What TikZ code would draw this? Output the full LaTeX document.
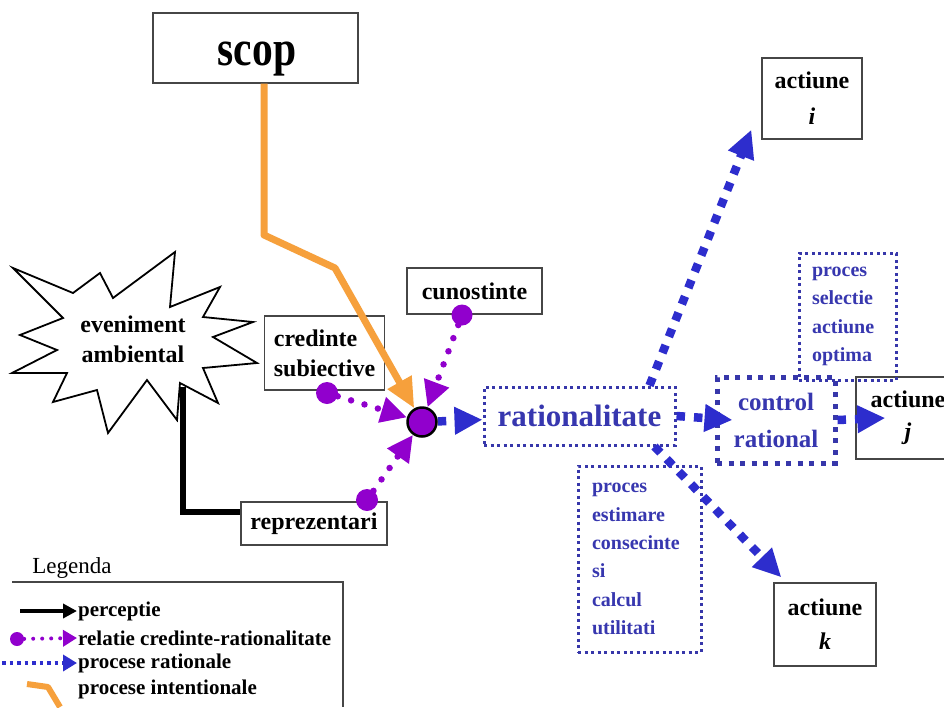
\documentclass[tikz,border=0pt]{standalone}
\usepackage{fontspec}
\setmainfont{Liberation Serif}
\newfontfamily\condserif[FakeStretch=0.83]{Liberation Serif Bold}
\usetikzlibrary{arrows.meta,calc}
\definecolor{arrblue}{RGB}{45,45,205}
\definecolor{boxblue}{RGB}{55,55,170}
\definecolor{txtblue}{RGB}{55,55,175}
\definecolor{purp}{RGB}{145,0,205}
\definecolor{orng}{RGB}{246,160,60}
\definecolor{boxgray}{RGB}{70,70,70}
\newcommand\fsL{\bfseries\fontsize{24}{30}\selectfont}
\newcommand\fsLeg{\bfseries\fontsize{21}{22}\selectfont}
\pgfdeclarelayer{fg}
\pgfsetlayers{main,fg}
\tikzset{
 bbox/.style={draw=boxgray, line width=1.3pt, fill=white, inner sep=0pt, align=center, font=\fsL},
 dbox/.style={draw=boxblue, line width=3pt, dash pattern=on 3pt off 3.5pt, inner sep=0pt, text=txtblue},
 barrow/.style={draw=arrblue, line width=8.5pt, dash pattern=on 8.5pt off 9pt, -{Triangle[length=28pt,width=26pt]}},
 parrow/.style={draw=purp, line width=6.5pt, line cap=round, dash pattern=on 0pt off 14pt, -{Triangle[length=26pt,width=25pt]}},
 pdot/.style={circle, fill=purp, inner sep=0pt, minimum size=22pt},
 oarrow/.style={draw=orng, line width=7pt, line join=round, -{Triangle[length=30pt,width=26pt]}},
 legtxt/.style={font=\fsLeg, anchor=west, inner sep=1pt},
}
\begin{document}
\begin{tikzpicture}[x=1pt,y=-1pt]
\useasboundingbox (0,0) rectangle (944,707);
\fill[white] (0,0) rectangle (944,707);

% foreground dots and centre
\begin{pgfonlayer}{fg}
\node[pdot] (d1) at (327,393) {};
\node[pdot] (d2) at (367,500) {};
\node[pdot, minimum size=21pt] (d3) at (462,315) {};
\node[circle, fill=purp, draw=black, line width=2.5pt, minimum size=29pt, inner sep=0pt] (cen) at (422,422) {};
\end{pgfonlayer}

% perception line
\coordinate (evb) at (183,387);
\node[bbox, minimum width=146pt, minimum height=43pt] (rep) at (314,523.5) {reprezentari};
\draw[line width=6pt] (evb) |- ([yshift=12pt]rep.west);
\node[bbox, minimum width=146pt, minimum height=43pt] at (rep) {reprezentari};

% star
\filldraw[fill=white, draw=black, line width=1.8pt, line join=miter]
 (13,268) -- (73,293) -- (100,273) -- (113,298) -- (175,252) -- (170,307) -- (220,287)
 -- (203,317) -- (253,322) -- (213,337) -- (257,363) -- (203,368) -- (218,403)
 -- (180,383) -- (177,420) -- (147,380) -- (108,433) -- (97,390) -- (53,402)
 -- (67,373) -- (12,373) -- (57,350) -- (20,335) -- (63,318) -- cycle;
\node[font=\fsL, align=center] (ev) at (133,339) {eveniment\\ambiental};

% boxes
\node[bbox, minimum width=205pt, minimum height=70pt] (scop) at (255.5,48) {};
\node[font=\condserif\fontsize{50}{50}\selectfont, anchor=base, inner sep=0pt] (scopt) at (257,65) {scop};
\node[bbox, minimum width=119pt, minimum height=74pt, align=left, inner xsep=9pt] (cred) at (324.5,353) {credinte\\subiective};
\node[bbox, minimum width=135pt, minimum height=46pt] (cun) at (474.5,291) {cunostinte};
\node[bbox, minimum width=100pt, minimum height=81pt] (acti) at (812,98.5) {actiune\\[6pt]\textit{i}};
\node[bbox, minimum width=104pt, minimum height=82pt] (actj) at (908,418) {actiune\\[2pt]\textit{j}};
\node[bbox, minimum width=102pt, minimum height=83pt] (actk) at (825,624.5) {actiune\\[4pt]\textit{k}};

\node[dbox, fill=white, minimum width=191pt, minimum height=58pt, font=\bfseries\fontsize{31}{31}\selectfont] (rat) at (579.5,416) {rationalitate};
\node[dbox, fill=white, line width=5pt, dash pattern=on 5pt off 6.5pt, minimum width=118pt, minimum height=86pt, align=center, font=\bfseries\fontsize{25}{37}\selectfont] (ctrl) at (776,420) {control\\rational};
\node[dbox, minimum width=97pt, minimum height=127pt, align=left, text width=71pt, font=\bfseries\fontsize{20}{28.5}\selectfont] (sel) at (847.5,316.5) {proces\\selectie\\actiune\\optima};
\node[dbox, minimum width=123pt, minimum height=186pt, align=left, text width=95pt, font=\bfseries\fontsize{20}{28.4}\selectfont] (est) at (639.5,559) {proces\\estimare\\consecinte\\si\\calcul\\utilitati};

% orange intentional arrow
\coordinate (o1) at (264,235);
\coordinate (o2) at (335,268);
\draw[oarrow] ([xshift=8.5pt]scop.south) -- (o1) -- (o2) -- (cen);

% purple arrows
\draw[parrow] (d1) -- (cen);
\draw[parrow] (d2) -- (cen);
\draw[parrow] (d3) -- (cen);

% blue arrows
\draw[barrow] (cen) -- (rat);
\draw[barrow] (rat.east) -- ([xshift=18pt]ctrl.west);
\draw[barrow] (ctrl.east) -- ([xshift=30pt]actj.west);
\draw[barrow] ([xshift=70pt]rat.north) -- ([xshift=-10pt,yshift=10pt]acti.south west);
\draw[barrow] ([xshift=75pt]rat.south) -- ([xshift=8pt,yshift=5pt]actk.north west);

% legend
\node[font=\fontsize{23}{23}\selectfont, inner sep=0pt] (leg) at (72,568) {Legenda};
\coordinate (lt1) at (12,582);
\coordinate (lt2) at (343,582);
\coordinate (lt3) at (343,707);
\draw[line width=1.2pt, boxgray] (lt1) -- (lt2) -- (lt3);
\node[legtxt] (l1) at (77,611) {perceptie};
\node[legtxt] (l2) at (77,638) {relatie credinte-rationalitate};
\node[legtxt] (l3) at (77,663) {procese rationale};
\node[legtxt] (l4) at (77,689) {procese intentionale};
\coordinate (l1s) at (20,611);
\draw[line width=4pt, -{Triangle[length=14pt,width=14pt]}] (l1s) -- (l1.west);
\node[pdot, minimum size=14pt] (l2d) at (17,639) {};
\draw[draw=purp, line width=4pt, line cap=round, dash pattern=on 0pt off 9pt, -{Triangle[length=14pt,width=16pt]}] (l2d) -- (l2.west);
\coordinate (l3s) at (2,663);
\draw[draw=arrblue, line width=3.5pt, dash pattern=on 3.5pt off 4pt, -{Triangle[length=14pt,width=16pt]}] (l3s) -- (l3.west);
\coordinate (l4a) at (27,684);
\coordinate (l4b) at (48,687);
\coordinate (l4c) at (60,707);
\draw[orng, line width=6pt, line join=round] (l4a) -- (l4b) -- (l4c);
\end{tikzpicture}
\end{document}
